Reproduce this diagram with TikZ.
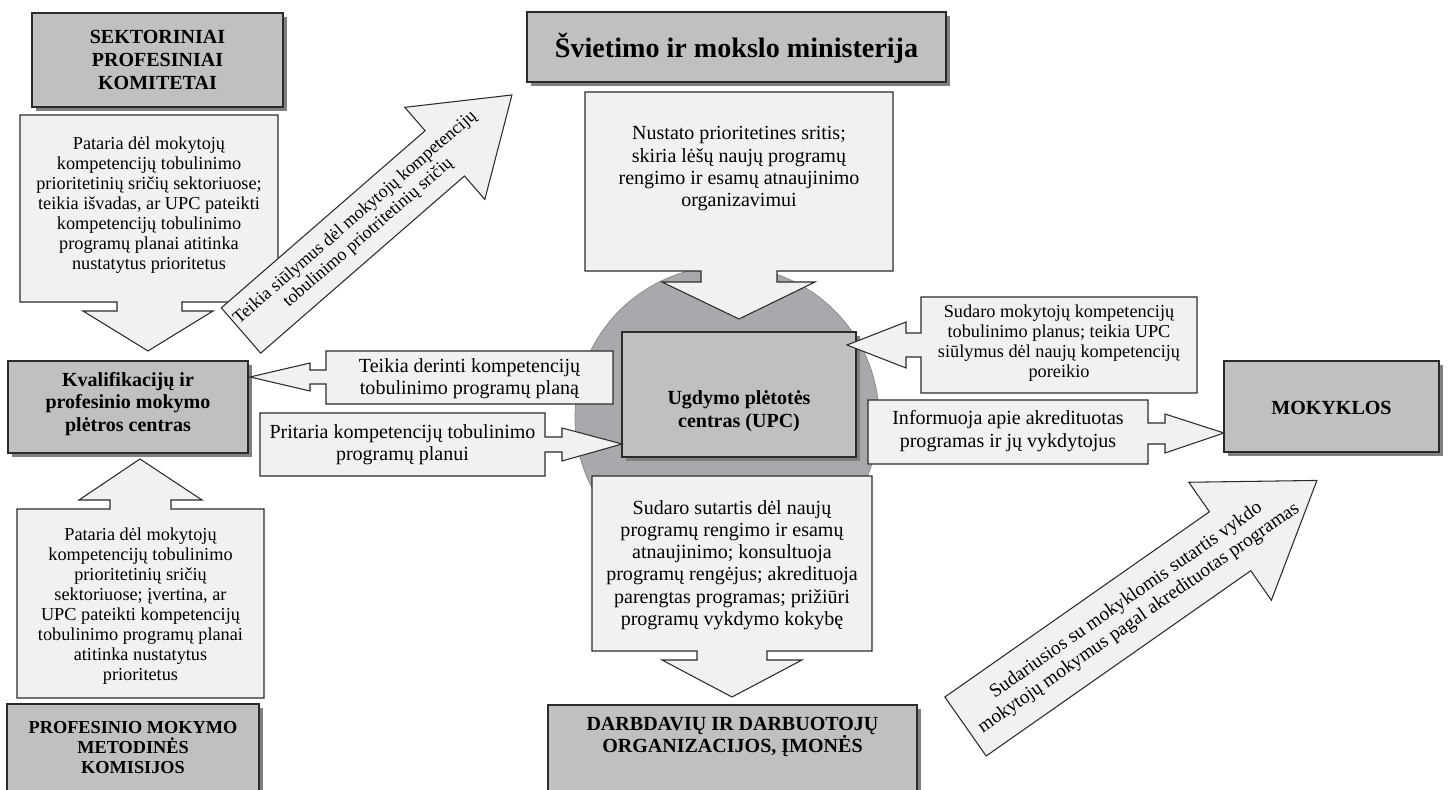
\documentclass[tikz,border=0pt]{standalone}
\usepackage{fontspec}
\setmainfont{Liberation Serif}
\definecolor{boxgray}{HTML}{BFC0C2}
\definecolor{discgray}{HTML}{A8A9AC}
\definecolor{notegray}{HTML}{F0F1F3}
\definecolor{edge}{HTML}{2B2B2B}
\tikzset{
  org/.style={draw=edge, line width=0.8pt, fill=boxgray},
  orgshadow/.style={fill=black!50, draw=none},
  note/.style={draw=edge, line width=0.6pt, fill=notegray, line join=miter},
  orgtext/.style={align=center, inner sep=0pt, font=\fontsize{11.4}{13}\selectfont\bfseries},
  notetext/.style={align=center, inner sep=0pt, font=\fontsize{10.4}{11.4}\selectfont},
  bignote/.style={align=center, inner sep=0pt, font=\fontsize{11.4}{12.7}\selectfont}
}
\begin{document}
\begin{tikzpicture}[x=0.02cm, y=-0.02cm]
\def \sh {4}
\useasboundingbox (0,0) rectangle (1450,790);
\clip (0,0) rectangle (1450,790);
\fill[white] (0,0) rectangle (1450,790);
% disc behind the centre
\draw[discgray!80!black, fill=discgray, line width=0.4pt] (727,418) circle [radius=3.04cm];
% grey boxes with shadow
\foreach \xa/\ya/\xb/\yb in {32/13/283/107, 527/12/946/82, 8/361/248/453,
    622/332/856/457, 1224/361/1439/452, 7/704/259/800, 548/705/917/800}
  {\fill[orgshadow] (\xa+\sh,\ya+\sh) rectangle (\xb+\sh,\yb+\sh);
   \draw[org] (\xa,\ya) rectangle (\xb,\yb);}
\node[orgtext] (sekt) at (157.5,60) {SEKTORINIAI\\PROFESINIAI\\KOMITETAI};
\node[orgtext, font=\fontsize{16}{18}\selectfont\bfseries] (min) at (736.5,48) {Švietimo ir mokslo ministerija};
\node[orgtext] (kval) at (128,404) {Kvalifikacijų ir\\profesinio mokymo\\plėtros centras};
\node[orgtext] (upc) at (739,411) {Ugdymo plėtotės\\centras (UPC)};
\node[orgtext] (mok) at (1331.5,408) {MOKYKLOS};
\node[orgtext, font=\fontsize{10.4}{11.4}\selectfont\bfseries] (prof) at (133,748) {PROFESINIO MOKYMO\\METODINĖS\\KOMISIJOS};
\node[orgtext] (darb) at (732.5,737) {DARBDAVIŲ IR DARBUOTOJŲ\\ORGANIZACIJOS, ĮMONĖS};
% callouts
\draw[note] (20,115) -- (278,115) -- (278,302) -- (182,302) -- (182,311) -- (213,311) -- (148,351)
  -- (83,311) -- (117,311) -- (117,302) -- (20,302) -- cycle;
\node[notetext] (pat1) at (149,205) {Pataria dėl mokytojų\\kompetencijų tobulinimo\\prioritetinių sričių sektoriuose;\\teikia išvadas, ar UPC pateikti\\kompetencijų tobulinimo\\programų planai atitinka\\nustatytus prioritetus};
\draw[note] (585,92) -- (893,92) -- (893,271) -- (777,271) -- (777,282) -- (815,282) -- (739,319)
  -- (662,282) -- (701,282) -- (701,271) -- (585,271) -- cycle;
\node[bignote] (nust) at (739,169) {Nustato prioritetines sritis;\\skiria lėšų naujų programų\\rengimo ir esamų atnaujinimo\\organizavimui};
\draw[note] (613,351) -- (613,404) -- (326,404) -- (326,384) -- (310,384) -- (310,391) -- (250,377)
  -- (310,363) -- (310,370) -- (326,370) -- (326,351) -- cycle;
\node[bignote] (derin) at (469.5,379) {Teikia derinti kompetencijų\\tobulinimo programų planą};
\draw[note] (260,413) -- (545,413) -- (545,437) -- (562,437) -- (562,428) -- (622,444) -- (562,461)
  -- (562,452) -- (545,452) -- (545,476) -- (260,476) -- cycle;
\node[bignote] (prit) at (402.5,445) {Pritaria kompetencijų tobulinimo\\programų planui};
\draw[note] (1197,297) -- (1197,393) -- (921,393) -- (921,357) -- (906,357) -- (906,368) -- (847,345)
  -- (906,322) -- (906,333) -- (921,333) -- (921,297) -- cycle;
\node[notetext] (plan) at (1059,343) {Sudaro mokytojų kompetencijų\\tobulinimo planus; teikia UPC\\siūlymus dėl naujų kompetencijų\\poreikio};
\draw[note] (868,400) -- (1148,400) -- (1148,423) -- (1165,423) -- (1165,414) -- (1224,433)
  -- (1165,453) -- (1165,444) -- (1148,444) -- (1148,464) -- (868,464) -- cycle;
\node[bignote] (info) at (1008,431) {Informuoja apie akredituotas\\programas ir jų vykdytojus};
\draw[note] (592,476) -- (872,476) -- (872,651) -- (767,651) -- (767,660) -- (802,660) -- (732,697)
  -- (662,660) -- (697,660) -- (697,651) -- (592,651) -- cycle;
\node[bignote] (sutar) at (732,565) {Sudaro sutartis dėl naujų\\programų rengimo ir esamų\\atnaujinimo; konsultuoja\\programų rengėjus; akredituoja\\parengtas programas; prižiūri\\programų vykdymo kokybę};
\draw[note] (17,509) -- (110,509) -- (110,500) -- (79,500) -- (140,459) -- (202,500) -- (171,500)
  -- (171,509) -- (264,509) -- (264,698) -- (17,698) -- cycle;
\node[notetext] (pat2) at (140.5,606) {Pataria dėl mokytojų\\kompetencijų tobulinimo\\prioritetinių sričių\\sektoriuose; įvertina, ar\\UPC pateikti kompetencijų\\tobulinimo programų planai\\atitinka nustatytus\\prioritetus};
% slanted arrows
\begin{scope}[shift={(241,330.5)}, rotate=41]
  \draw[note] (0,-30) -- (270,-30) -- (270,-61) -- (359,0) -- (270,61) -- (270,30) -- (0,30) -- cycle;
  \node[notetext, font=\fontsize{10.2}{11.4}\selectfont, rotate=41] (siul) at (160,0) {Teikia siūlymus dėl mokytojų kompetencijų\\tobulinimo priotritetinių sričių};
\end{scope}
\begin{scope}[shift={(965.5,726.5)}, rotate=35]
  \draw[note] (0,-36) -- (323,-36) -- (323,-72) -- (429,0) -- (323,72) -- (323,36) -- (0,36) -- cycle;
  \node[notetext, font=\fontsize{11}{12.4}\selectfont, rotate=35] (vykd) at (204,0) {Sudariusios su mokyklomis sutartis vykdo\\mokytojų mokymus pagal akredituotas programas};
\end{scope}
\end{tikzpicture}
\end{document}
